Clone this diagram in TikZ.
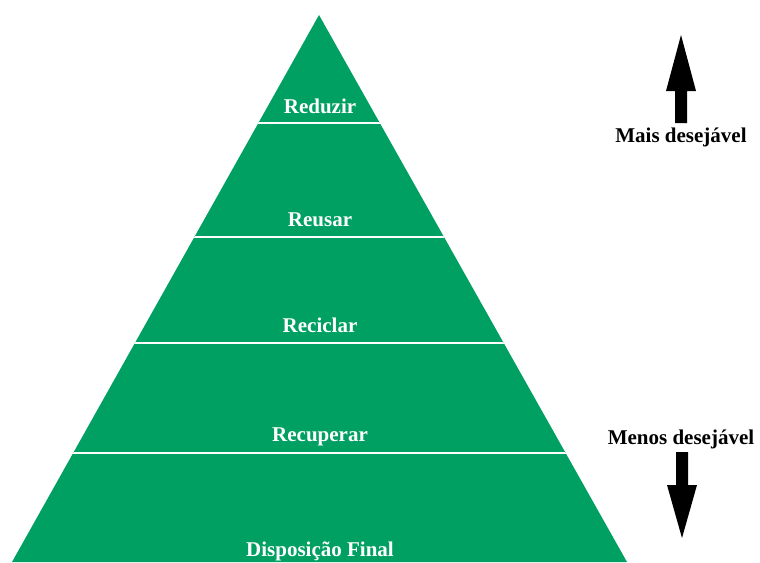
\documentclass[tikz,border=0pt]{standalone}
\usepackage{fontspec}
\setmainfont{Liberation Serif}
\definecolor{pyrgreen}{RGB}{0,160,99}
\begin{document}
\begin{tikzpicture}[x=1pt,y=-1pt,
  lvl/.style={font=\fontsize{21}{24}\selectfont\bfseries, text=white, anchor=base, inner sep=0pt},
  side/.style={font=\fontsize{21}{24}\selectfont\bfseries, text=black, anchor=base, inner sep=0pt},
  sep/.style={draw=white, line width=2.6pt},
  arr/.style={fill=black}]
\useasboundingbox[fill=white] (0,0) rectangle (760,562);
% pyramid
\fill[pyrgreen] (319,15) -- (627,562) -- (12,562) -- cycle;
\begin{scope}
\clip (319,15) -- (627,562) -- (12,562) -- cycle;
\draw[sep] (0,123) -- (760,123);
\draw[sep] (0,237) -- (760,237);
\draw[sep] (0,343) -- (760,343);
\draw[sep] (0,453) -- (760,453);
\end{scope}
% labels
\node[lvl] (l1) at (320,113) {Reduzir};
\node[lvl] (l2) at (320,226) {Reusar};
\node[lvl] (l3) at (320,332) {Reciclar};
\node[lvl] (l4) at (320,441) {Recuperar};
\node[lvl] (l5) at (320,556) {Disposição Final};
% side labels
\node[side] (mais) at (681,142) {Mais desejável};
\node[side] (menos) at (681,444) {Menos desejável};
% arrows
\fill[arr] (681,35) -- (696,91) -- (687,91) -- (687,123) -- (675,123) -- (675,91) -- (666,91) -- cycle;
\fill[arr] (682,538) -- (697,485) -- (688,485) -- (688,452) -- (676,452) -- (676,485) -- (667,485) -- cycle;
\end{tikzpicture}
\end{document}
